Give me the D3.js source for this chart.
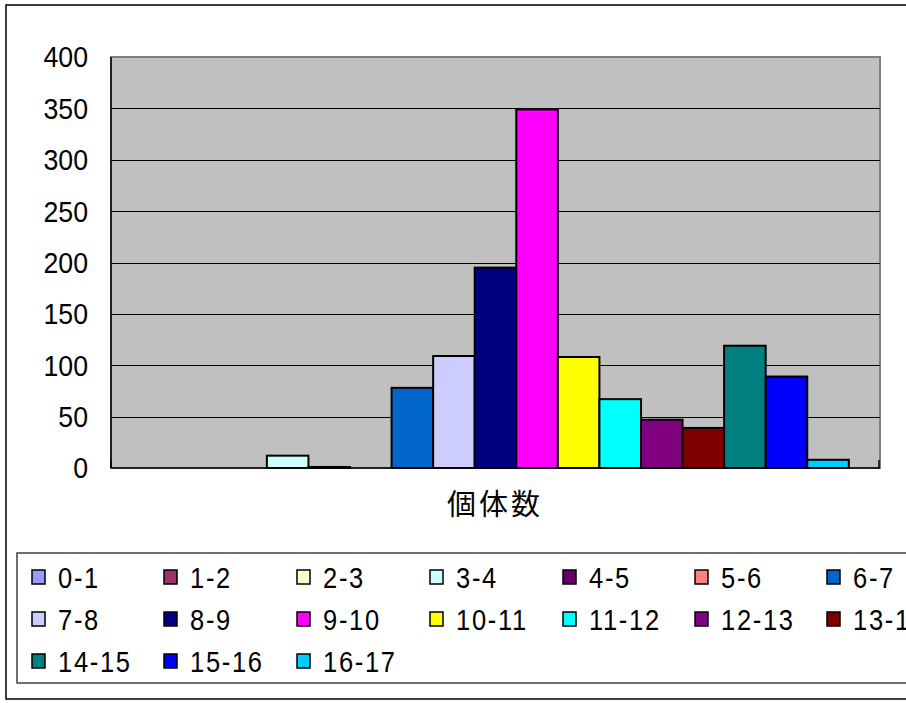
<!DOCTYPE html>
<html>
<head>
<meta charset="utf-8">
<script src="https://cdn.jsdelivr.net/npm/d3@7"></script>
<style>
  html, body { margin: 0; padding: 0; background: #fff; }
  svg { display: block; }
</style>
</head>
<body>
<svg id="chart" width="906" height="703"></svg>
<script>
// Age classes (years) and number of individuals in each class
const classes = ["0-1","1-2","2-3","3-4","4-5","5-6","6-7","7-8","8-9","9-10",
                 "10-11","11-12","12-13","13-14","14-15","15-16","16-17"];
const counts  = [0, 0, 0, 12, 1, 0, 78, 109, 195, 349, 108, 67, 47, 39, 119, 89, 8];
const colors  = ["#9999FF","#993366","#FFFFCC","#CCFFFF","#660066","#FF8080","#0066CC",
                 "#CCCCFF","#000080","#FF00FF","#FFFF00","#00FFFF","#800080","#800000",
                 "#008080","#0000FF","#00CCFF"];
const yTicks  = [0, 50, 100, 150, 200, 250, 300, 350, 400];
const xTitle  = "個体数";

const svg = d3.select("#chart");
const font = "'Liberation Sans', Arial, sans-serif";

// outer chart frame
svg.append("rect")
  .attr("x", 6).attr("y", 5).attr("width", 960).attr("height", 694)
  .attr("fill", "#fff").attr("stroke", "#000").attr("stroke-width", 1.5);

const plot = { left: 111, right: 880, top: 57, bottom: 468 };

const y = d3.scaleLinear().domain([0, 400]).range([plot.bottom, plot.top]);

// one cluster holding all classes; gap of 150% of a bar width split on both sides
const barW = (plot.right - plot.left) / (classes.length + 1.5);
const x = d3.scaleBand().domain(classes)
  .range([plot.left + barW * 0.75, plot.right - barW * 0.75])
  .padding(0);

// plot area
svg.append("rect")
  .attr("x", plot.left).attr("y", plot.top)
  .attr("width", plot.right - plot.left).attr("height", plot.bottom - plot.top)
  .attr("fill", "#C0C0C0").attr("stroke", "#808080").attr("stroke-width", 2);

// horizontal gridlines
svg.append("g")
  .selectAll("line")
  .data(yTicks.filter(d => d > 0 && d < 400))
  .join("line")
  .attr("x1", plot.left).attr("x2", plot.right)
  .attr("y1", d => Math.round(y(d)) + 0.5).attr("y2", d => Math.round(y(d)) + 0.5)
  .attr("stroke", "#000").attr("stroke-width", 1);

// bars
svg.append("g")
  .selectAll("rect")
  .data(classes.map((c, i) => ({ c, v: counts[i], col: colors[i] })).filter(d => d.v > 0))
  .join("rect")
  .attr("x", d => x(d.c))
  .attr("y", d => y(d.v))
  .attr("width", x.bandwidth())
  .attr("height", d => y(0) - y(d.v))
  .attr("fill", d => d.col)
  .attr("stroke", "#000")
  .attr("stroke-width", 2);

// axis lines
svg.append("line")
  .attr("x1", plot.left).attr("x2", plot.left)
  .attr("y1", plot.top).attr("y2", plot.bottom)
  .attr("stroke", "#000").attr("stroke-width", 1.5);
svg.append("line")
  .attr("x1", plot.left).attr("x2", plot.right)
  .attr("y1", plot.bottom).attr("y2", plot.bottom)
  .attr("stroke", "#000").attr("stroke-width", 1.5);
// category axis end tick marks
[plot.left, plot.right - 1].forEach(px => {
  svg.append("line")
    .attr("x1", px).attr("x2", px)
    .attr("y1", plot.bottom).attr("y2", plot.bottom - 8)
    .attr("stroke", "#000").attr("stroke-width", 1.5);
});

// value axis labels (slightly condensed glyphs)
svg.append("g")
  .selectAll("text")
  .data(yTicks)
  .join("text")
  .attr("transform", d => `translate(${plot.left - 23},${y(d)}) scale(0.92,1)`)
  .attr("text-anchor", "end")
  .attr("dy", "0.36em")
  .attr("font-family", font)
  .attr("font-size", 29)
  .attr("fill", "#000")
  .text(d => d);

// category axis title
svg.append("text")
  .attr("x", 495).attr("y", 515)
  .attr("text-anchor", "middle")
  .attr("font-family", "'Noto Sans CJK JP', sans-serif")
  .attr("font-size", 29)
  .attr("letter-spacing", 3)
  .attr("fill", "#000")
  .text(xTitle);

// legend
svg.append("rect")
  .attr("x", 17).attr("y", 553).attr("width", 960).attr("height", 130)
  .attr("fill", "#fff").attr("stroke", "#404040").attr("stroke-width", 1.5);

const colX = [32, 164, 297, 430, 563, 695, 827];
const rowY = [577, 619, 661];
const lg = svg.append("g")
  .selectAll("g")
  .data(classes.map((c, i) => ({ c, col: colors[i], i })))
  .join("g")
  .attr("transform", d => `translate(${colX[d.i % 7]},${rowY[Math.floor(d.i / 7)]})`);
lg.append("rect")
  .attr("x", 0).attr("y", -7).attr("width", 13).attr("height", 14)
  .attr("fill", d => d.col).attr("stroke", "#000").attr("stroke-width", 1.5);
lg.append("text")
  .attr("transform", "translate(26,0) scale(0.85,1)")
  .attr("dy", "0.36em")
  .attr("font-family", font)
  .attr("font-size", 30)
  .attr("letter-spacing", 2)
  .attr("fill", "#000")
  .text(d => d.c);
</script>
</body>
</html>
